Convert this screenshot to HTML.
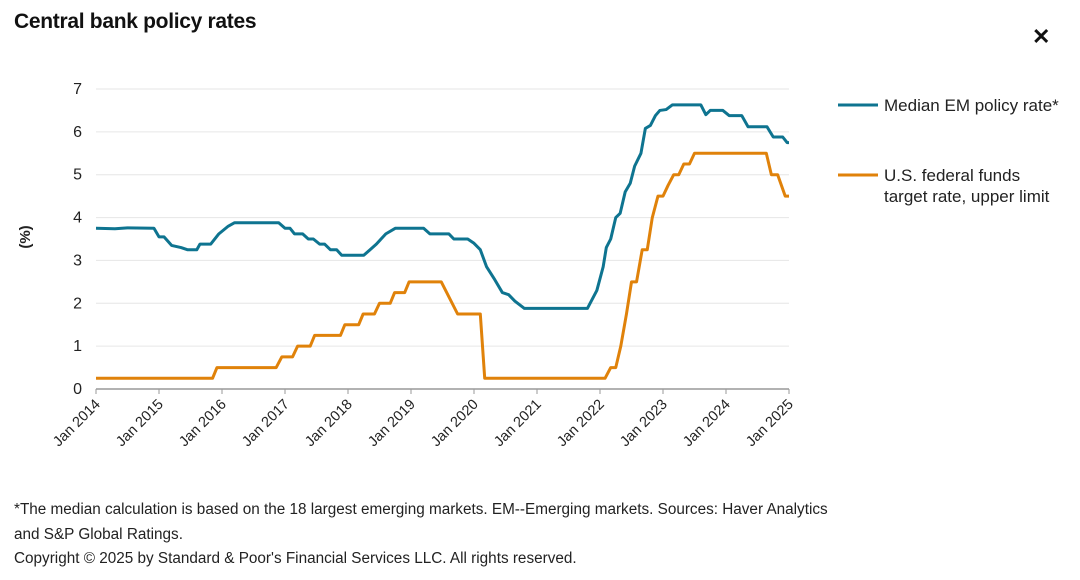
<!DOCTYPE html>
<html><head><meta charset="utf-8"><style>
body{margin:0;background:#fff;width:1080px;height:580px;overflow:hidden;font-family:"Liberation Sans",sans-serif;color:#111}
.t{position:absolute;left:14px;top:10px;font-size:21px;font-weight:bold;letter-spacing:-0.3px}
.x{position:absolute;left:1032px;top:24px;font-size:22px;font-weight:bold}
.f{position:absolute;left:14px;font-size:15.3px;color:#222}
</style></head><body>
<div class="t">Central bank policy rates</div>
<div class="x">✕</div>
<svg id="c" width="1080" height="580" style="position:absolute;left:0;top:0"></svg>
<div class="f" style="top:501px">*The median calculation is based on the 18 largest emerging markets. EM--Emerging markets. Sources: Haver Analytics</div>
<div class="f" style="top:526px">and S&amp;P Global Ratings.</div>
<div class="f" style="top:550px">Copyright © 2025 by Standard &amp; Poor's Financial Services LLC. All rights reserved.</div>
<script>
const yTicks=[0,1,2,3,4,5,6,7];
const xTicks=["Jan 2014","Jan 2015","Jan 2016","Jan 2017","Jan 2018","Jan 2019","Jan 2020","Jan 2021","Jan 2022","Jan 2023","Jan 2024","Jan 2025"];
const fedDates=[2014,2015.85,2015.92,2016.86,2016.95,2017.12,2017.2,2017.4,2017.47,2017.88,2017.95,2018.17,2018.24,2018.42,2018.5,2018.67,2018.74,2018.9,2018.97,2019.48,2019.74,2020.1,2020.17,2022.08,2022.17,2022.25,2022.33,2022.42,2022.5,2022.58,2022.67,2022.75,2022.83,2022.92,2023.0,2023.08,2023.17,2023.25,2023.33,2023.42,2023.5,2024.64,2024.72,2024.82,2024.94,2025];
const fedValues=[0.25,0.25,0.5,0.5,0.75,0.75,1,1,1.25,1.25,1.5,1.5,1.75,1.75,2,2,2.25,2.25,2.5,2.5,1.75,1.75,0.25,0.25,0.5,0.5,1,1.75,2.5,2.5,3.25,3.25,4,4.5,4.5,4.75,5,5,5.25,5.25,5.5,5.5,5,5,4.5,4.5];
const emDates=[2014,2014.3,2014.5,2014.92,2015.0,2015.08,2015.2,2015.35,2015.45,2015.6,2015.65,2015.82,2015.95,2016.1,2016.2,2016.5,2016.9,2017.0,2017.08,2017.15,2017.28,2017.37,2017.45,2017.55,2017.63,2017.72,2017.82,2017.9,2018.25,2018.35,2018.45,2018.6,2018.75,2019.2,2019.3,2019.6,2019.68,2019.9,2020.0,2020.1,2020.2,2020.33,2020.45,2020.55,2020.65,2020.8,2021.8,2021.95,2022.05,2022.1,2022.17,2022.25,2022.32,2022.4,2022.48,2022.55,2022.65,2022.72,2022.8,2022.88,2022.95,2023.05,2023.15,2023.6,2023.68,2023.75,2023.95,2024.05,2024.25,2024.35,2024.45,2024.65,2024.75,2024.9,2024.97,2025];
const emValues=[3.75,3.74,3.76,3.75,3.55,3.55,3.35,3.3,3.25,3.25,3.38,3.38,3.62,3.8,3.88,3.88,3.88,3.75,3.75,3.62,3.62,3.5,3.5,3.38,3.38,3.25,3.25,3.12,3.12,3.25,3.38,3.62,3.75,3.75,3.62,3.62,3.5,3.5,3.4,3.25,2.85,2.55,2.25,2.2,2.05,1.88,1.88,2.3,2.85,3.3,3.5,4.0,4.1,4.6,4.8,5.2,5.5,6.08,6.15,6.38,6.5,6.52,6.63,6.63,6.4,6.5,6.5,6.38,6.38,6.12,6.12,6.12,5.88,5.88,5.75,5.75];
const svg=document.getElementById('c'),NS='http://www.w3.org/2000/svg';
const X0=96,X1=789,Y0=389,Y7=89;
const xs=t=>X0+(t-2014)*(X1-X0)/11, ys=v=>Y0-v*(Y0-Y7)/7;
function mk(tag,a,txt){const e=document.createElementNS(NS,tag);for(const k in a)e.setAttribute(k,a[k]);if(txt!=null)e.textContent=txt;svg.appendChild(e);return e;}
yTicks.forEach(v=>{
 if(v>0){const g=mk('line',{x1:X0,x2:X1,y1:ys(v),y2:ys(v),stroke:'#e6e6e6','stroke-width':1});
 
 }
 const l=mk('text',{x:82,y:ys(v)+5,'text-anchor':'end','font-size':16,fill:'#222','font-family':'Liberation Sans'},v);
 
 
});
const ax=mk('line',{x1:X0,x2:X1,y1:Y0,y2:Y0,stroke:'#999','stroke-width':1.5});


xTicks.forEach((s,i)=>{
 const x=X0+i*(X1-X0)/11;
 const tk=mk('line',{x1:x,x2:x,y1:Y0,y2:Y0+5,stroke:'#999'});
 
 
 const l=mk('text',{x:x+5,y:Y0+16,'text-anchor':'end','font-size':14.5,fill:'#222','font-family':'Liberation Sans',transform:`rotate(-45 ${x+5} ${Y0+16})`},s);
 
 
});
const yt=mk('text',{x:30,y:237,'text-anchor':'middle','font-size':15,'font-weight':'bold',fill:'#222','font-family':'Liberation Sans',transform:'rotate(-90 30 237)'},'(%)');


function line(d,v,c,n){const p=mk('polyline',{points:d.map((t,i)=>xs(t)+','+ys(v[i])).join(' '),fill:'none',stroke:c,'stroke-width':3,'stroke-linejoin':'round'});
 
 }
line(fedDates,fedValues,'#e0820a','fed-funds-line');
line(emDates,emValues,'#0e7490','median-em-line');
const L=[['#0e7490',105,['Median EM policy rate*']],['#e0820a',175,['U.S. federal funds','target rate, upper limit']]];
L.forEach(([c,y,ts],i)=>{
 const s=mk('line',{x1:838,x2:878,y1:y,y2:y,stroke:c,'stroke-width':3});
 
 
 ts.forEach((t,j)=>{const e=mk('text',{x:884,y:y+6+j*21,'font-size':17,fill:'#222','font-family':'Liberation Sans'},t);
 
 });
});
</script>
</body></html>
